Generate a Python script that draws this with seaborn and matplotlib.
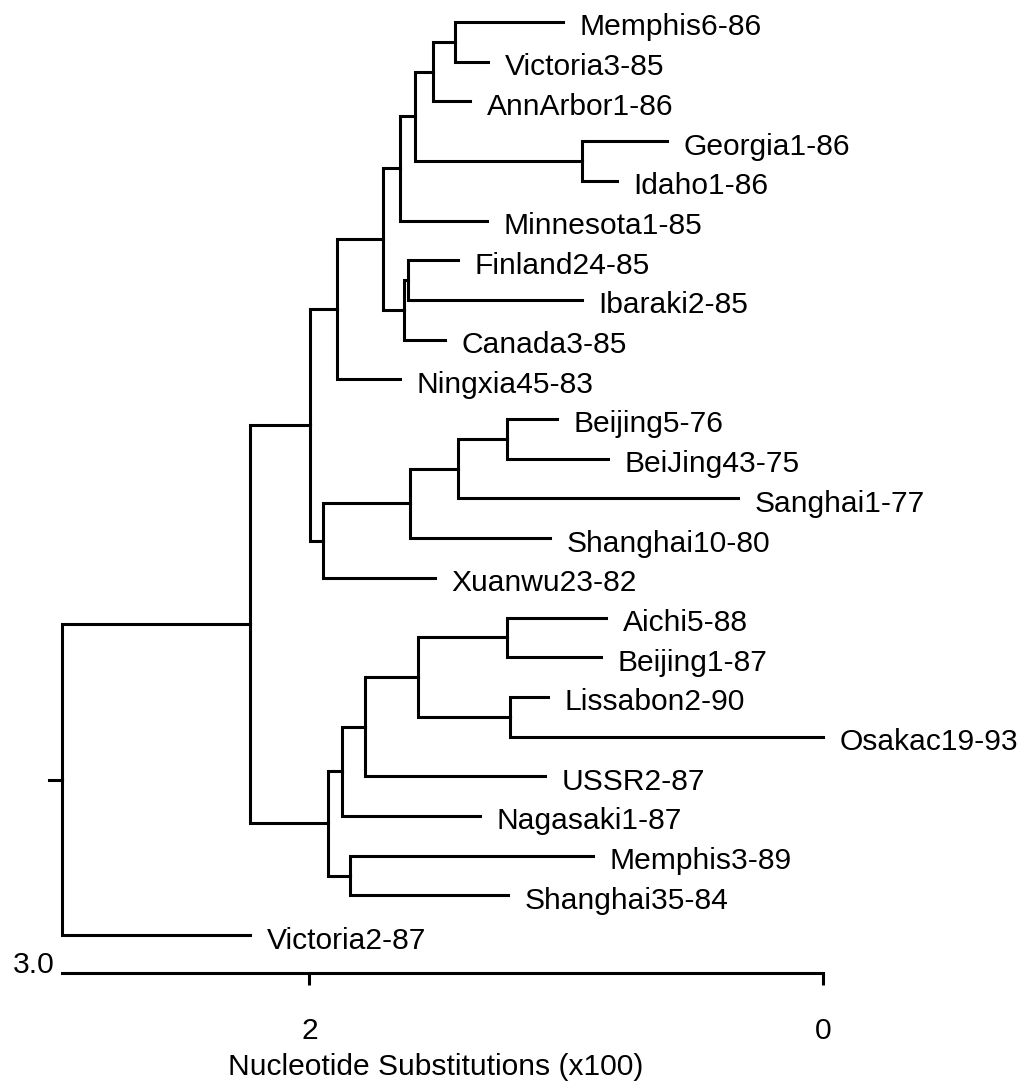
import matplotlib
matplotlib.use("Agg")
import matplotlib.pyplot as plt
import matplotlib.transforms as mtransforms
import seaborn as sns
import pandas as pd

# leaf order top -> bottom, and tip position on the substitution scale (x100)
leaves = ["Memphis6-86", "Victoria3-85", "AnnArbor1-86", "Georgia1-86", "Idaho1-86",
          "Minnesota1-85", "Finland24-85", "Ibaraki2-85", "Canada3-85", "Ningxia45-83",
          "Beijing5-76", "BeiJing43-75", "Sanghai1-77", "Shanghai10-80", "Xuanwu23-82",
          "Aichi5-88", "Beijing1-87", "Lissabon2-90", "Osakac19-93", "USSR2-87",
          "Nagasaki1-87", "Memphis3-89", "Shanghai35-84", "Victoria2-87"]
tip_x = [1.014, 1.305, 1.375, 0.609, 0.804,
         1.309, 1.422, 0.940, 1.473, 1.648,
         1.037, 0.840, 0.333, 1.064, 1.512,
         0.846, 0.866, 1.072, 0.0, 1.084,
         1.337, 0.897, 1.228, 2.232]

# internal nodes (children first), their children and position on the scale
clade_names = ["c1", "c2", "c3", "c4", "c5", "c6", "c7", "c8", "c9", "c10", "c11", "c12",
               "c13", "c14", "c15", "c16", "c17", "c18", "c19", "c20", "c21", "c22", "root"]
clade_children = [["Memphis6-86", "Victoria3-85"], ["c1", "AnnArbor1-86"],
                  ["Georgia1-86", "Idaho1-86"], ["c2", "c3"], ["c4", "Minnesota1-85"],
                  ["Finland24-85", "Ibaraki2-85"], ["c6", "Canada3-85"], ["c5", "c7"],
                  ["c8", "Ningxia45-83"], ["Beijing5-76", "BeiJing43-75"],
                  ["c10", "Sanghai1-77"], ["c11", "Shanghai10-80"], ["c12", "Xuanwu23-82"],
                  ["c9", "c13"], ["Aichi5-88", "Beijing1-87"], ["Lissabon2-90", "Osakac19-93"],
                  ["c15", "c16"], ["c17", "USSR2-87"], ["c18", "Nagasaki1-87"],
                  ["Memphis3-89", "Shanghai35-84"], ["c19", "c20"], ["c14", "c21"],
                  ["c22", "Victoria2-87"]]
clade_x = [1.434, 1.519, 0.940, 1.589, 1.648, 1.617, 1.632, 1.714, 1.893, 1.232, 1.422, 1.609,
           1.947, 1.998, 1.232, 1.220, 1.578, 1.784, 1.874, 1.842, 1.926, 2.232, 2.963]

scale_ticks = [2, 0]
scale_labels = ["2", "0"]
xlabel = "Nucleotide Substitutions (x100)"

# node coordinates
pos = {}
for i, name in enumerate(leaves):
    pos[name] = (tip_x[i], i)
for name, kids, x in zip(clade_names, clade_children, clade_x):
    y = sum(pos[k][1] for k in kids) / len(kids)
    pos[name] = (x, y)

# elbow paths parent -> child
rows = []
seg = 0
for name, kids in zip(clade_names, clade_children):
    px, py = pos[name]
    for k in kids:
        cx, cy = pos[k]
        for j, (x, y) in enumerate([(px, py), (px, cy), (cx, cy)]):
            rows.append({"seg": seg, "order": j, "x": x, "y": y})
        seg += 1
rx, ry = pos["root"]
for j, x in enumerate([rx, rx + 0.05]):
    rows.append({"seg": seg, "order": j, "x": x, "y": ry})
df = pd.DataFrame(rows)

sns.set_style("white")
plt.rcParams["font.family"] = ["Liberation Sans", "DejaVu Sans"]
plt.rcParams["text.color"] = "black"
fs = 21.6

fig = plt.figure(figsize=(10.28, 10.82), dpi=100)
ax = fig.add_axes([0, 0.1007, 1, 0.8993])

sns.lineplot(data=df, x="x", y="y", units="seg", estimator=None, sort=False,
             color="black", linewidth=2.2, legend=False, ax=ax,
             solid_joinstyle="miter", solid_capstyle="projecting")

for i, name in enumerate(leaves):
    ax.annotate(name, (tip_x[i], i), xytext=(12, -9.7), textcoords="offset points",
                ha="left", va="baseline", fontsize=fs, color="black")

ax.set_xlim(3.204, -0.796)
ax.set_ylim(23.955, -0.554)
sns.despine(ax=ax, left=True)
ax.spines["bottom"].set_bounds(0, rx)
ax.spines["bottom"].set_linewidth(2.2)
ax.spines["bottom"].set_color("black")
ax.set_yticks([])
ax.set_ylabel("")
ax.set_xticks(scale_ticks)
ax.set_xticklabels(scale_labels)
ax.tick_params(axis="x", direction="out", length=8.6, width=2.2, pad=23,
               labelsize=fs, color="black", labelcolor="black", bottom=True)
ax.set_xlabel(xlabel, fontsize=fs, color="black")
ax.xaxis.set_label_coords(0.424, -0.082)

trans = mtransforms.blended_transform_factory(ax.transData, ax.transAxes)
ax.text(2.99, 0.0, "3.0", transform=trans, ha="right", va="baseline",
        fontsize=fs, color="black")

fig.savefig("out.png", dpi=100)
